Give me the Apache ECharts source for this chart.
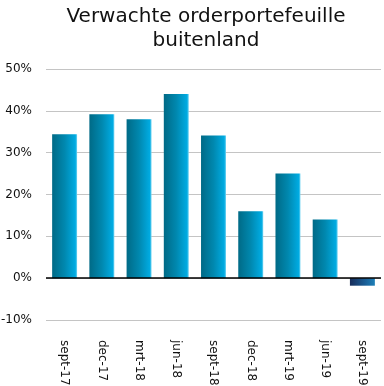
<!DOCTYPE html>
<html>
<head>
<meta charset="utf-8">
<script src="https://cdn.jsdelivr.net/npm/echarts@6/dist/echarts.min.js"></script>
<style>html,body{margin:0;padding:0;background:#fff;}#c{width:384px;height:386px;}</style>
</head>
<body>
<div id="c"></div>
<script>
var categories = ['sept-17','dec-17','mrt-18','jun-18','sept-18','dec-18','mrt-19','jun-19','sept-19'];
var values = [34.4, 39.2, 38.0, 44.0, 34.1, 16.0, 25.0, 14.0, -1.8];
var yTicks = [-10, 0, 10, 20, 30, 40, 50];

var posGrad = new echarts.graphic.LinearGradient(0,0,1,0,[
  {offset:0,color:'#006a86'},{offset:0.5,color:'#0088af'},{offset:0.93,color:'#00abe2'},{offset:1,color:'#6fd3f2'}]);
var negGrad = new echarts.graphic.LinearGradient(0,0,1,0,[
  {offset:0,color:'#172d5a'},{offset:0.6,color:'#1a5d95'},{offset:1,color:'#1d80b8'}]);

var chart = echarts.init(document.getElementById('c'), null, {renderer:'canvas'});
chart.setOption({
  animation:false,
  title:{text:'Verwachte orderportefeuille\nbuitenland', left:201, top:0, textAlign:'center',
    textStyle:{fontFamily:'DejaVu Sans', fontSize:20, fontWeight:'normal', color:'#111', lineHeight:24}},
  grid:{left:46, right:3, top:69, bottom:66, containLabel:false, outerBoundsMode:'none'},
  xAxis:{type:'category', data:categories,
    axisLine:{show:false, onZero:false}, axisTick:{show:false},
    axisLabel:{rotate:-90, margin:20, fontFamily:'DejaVu Sans', fontSize:12, color:'#111', interval:0}},
  yAxis:{type:'value', min:yTicks[0], max:yTicks[yTicks.length-1], interval:10,
    axisLine:{show:false}, axisTick:{show:false},
    splitLine:{lineStyle:{color:'#c4c4c4', width:1}},
    axisLabel:{formatter:'{value}%', margin:14, fontFamily:'DejaVu Sans', fontSize:12, color:'#111'}},
  series:[{type:'bar', barWidth:'67%',
    data: values.map(function(v){return {value:v, itemStyle:{color: v<0?negGrad:posGrad}};}),
    markLine:{silent:true, symbol:'none', label:{show:false},
      lineStyle:{color:'#000', width:1.5, type:'solid'}, data:[{yAxis:0}]}
  }]
});
</script>
</body>
</html>
